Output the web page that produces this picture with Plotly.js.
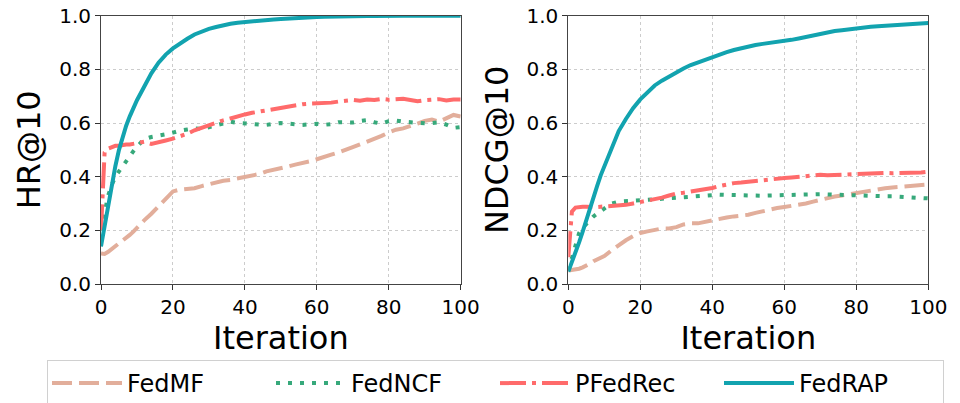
<!DOCTYPE html>
<html>
<head>
<meta charset="utf-8">
<script src="https://cdn.plot.ly/plotly-3.0.1.min.js"></script>
<style>html,body{margin:0;padding:0;background:#fff;}#chart{width:960px;height:403px;}</style>
</head>
<body>
<div id="chart"></div>
<script>
const iterations = [0,1,2,3,4,5,6,7,8,9,10,12,14,16,18,20,22,24,26,28,30,32,34,36,38,40,42,44,46,48,50,52,54,56,58,60,62,64,66,68,70,72,74,76,78,80,82,84,86,88,90,92,94,96,98,100];
const seriesNames = ["FedMF","FedNCF","PFedRec","FedRAP"];

// HR@10
const hrFedMF = [0.114,0.112,0.12,0.13,0.14,0.15,0.16,0.17,0.183,0.195,0.21,0.237,0.262,0.29,0.318,0.345,0.352,0.355,0.357,0.365,0.372,0.38,0.385,0.388,0.394,0.398,0.405,0.41,0.42,0.425,0.43,0.438,0.445,0.45,0.457,0.465,0.475,0.482,0.49,0.502,0.51,0.52,0.53,0.54,0.552,0.565,0.575,0.58,0.588,0.598,0.608,0.613,0.605,0.618,0.63,0.624];
const hrFedNCF = [0.20,0.27,0.33,0.37,0.40,0.42,0.44,0.46,0.478,0.495,0.512,0.54,0.548,0.552,0.558,0.564,0.572,0.576,0.58,0.578,0.585,0.59,0.597,0.605,0.60,0.598,0.594,0.593,0.593,0.597,0.60,0.598,0.596,0.593,0.595,0.597,0.593,0.596,0.603,0.604,0.602,0.608,0.611,0.603,0.597,0.607,0.609,0.605,0.603,0.60,0.599,0.60,0.603,0.594,0.582,0.585];
const hrPFedRec = [0.20,0.49,0.505,0.51,0.515,0.515,0.518,0.52,0.52,0.522,0.525,0.53,0.522,0.53,0.535,0.542,0.55,0.56,0.573,0.583,0.592,0.60,0.61,0.617,0.626,0.632,0.638,0.643,0.646,0.65,0.655,0.66,0.666,0.67,0.672,0.673,0.672,0.676,0.68,0.684,0.686,0.683,0.688,0.686,0.69,0.687,0.689,0.69,0.686,0.681,0.685,0.688,0.689,0.684,0.688,0.688];
const hrFedRAP = [0.14,0.22,0.30,0.37,0.44,0.50,0.55,0.59,0.625,0.66,0.685,0.735,0.785,0.825,0.855,0.878,0.898,0.914,0.93,0.942,0.951,0.958,0.965,0.97,0.974,0.977,0.979,0.982,0.984,0.986,0.988,0.99,0.991,0.993,0.994,0.995,0.996,0.997,0.997,0.998,0.998,0.999,0.999,0.999,1.0,1.0,1.0,1.0,1.0,1.0,1.0,1.0,1.0,1.0,1.0,1.0];

// NDCG@10
const ndcgFedMF = [0.05,0.052,0.054,0.057,0.062,0.068,0.076,0.085,0.092,0.098,0.104,0.125,0.145,0.163,0.178,0.19,0.196,0.203,0.207,0.207,0.212,0.222,0.226,0.226,0.232,0.238,0.242,0.248,0.252,0.255,0.258,0.265,0.272,0.278,0.283,0.287,0.291,0.296,0.30,0.307,0.314,0.32,0.326,0.33,0.335,0.339,0.343,0.348,0.352,0.357,0.36,0.362,0.364,0.366,0.368,0.371];
const ndcgFedNCF = [0.05,0.10,0.15,0.19,0.21,0.225,0.24,0.252,0.262,0.272,0.282,0.30,0.307,0.307,0.31,0.312,0.314,0.316,0.318,0.32,0.322,0.325,0.328,0.33,0.331,0.332,0.333,0.332,0.331,0.33,0.329,0.328,0.329,0.33,0.331,0.332,0.332,0.333,0.334,0.334,0.335,0.334,0.333,0.331,0.329,0.328,0.328,0.329,0.328,0.327,0.327,0.326,0.324,0.322,0.32,0.319];
const ndcgPFedRec = [0.10,0.27,0.285,0.288,0.288,0.288,0.287,0.286,0.287,0.288,0.289,0.29,0.29,0.295,0.30,0.305,0.31,0.316,0.322,0.33,0.337,0.34,0.344,0.348,0.353,0.358,0.365,0.372,0.376,0.378,0.381,0.383,0.386,0.392,0.395,0.395,0.397,0.399,0.402,0.405,0.407,0.405,0.406,0.408,0.41,0.412,0.412,0.414,0.413,0.414,0.413,0.413,0.414,0.413,0.416,0.419];
const ndcgFedRAP = [0.046,0.08,0.12,0.155,0.195,0.24,0.285,0.325,0.365,0.405,0.44,0.51,0.57,0.615,0.655,0.688,0.716,0.74,0.758,0.774,0.789,0.803,0.816,0.826,0.836,0.846,0.855,0.864,0.872,0.879,0.885,0.891,0.895,0.898,0.901,0.905,0.91,0.915,0.921,0.928,0.934,0.939,0.943,0.946,0.95,0.953,0.956,0.959,0.961,0.963,0.965,0.967,0.968,0.97,0.971,0.973];

const xTicks = [0,20,40,60,80,100];
const yTicks = [0,0.2,0.4,0.6,0.8,1.0];

const colors = ["#E2AE9B","#37A97B","#FF6B6B","#12A3AF"];
const dashes = ["20px,7px","4px,8px","26px,6px,4px,6px","solid"];
const FONT = "DejaVu Sans, Verdana, sans-serif";

const hrData = [hrFedMF, hrFedNCF, hrPFedRec, hrFedRAP];
const ndcgData = [ndcgFedMF, ndcgFedNCF, ndcgPFedRec, ndcgFedRAP];

const traces = [];
seriesNames.forEach((name, k) => {
  traces.push({x: iterations, y: hrData[k], type: "scatter", mode: "lines", name: name,
    xaxis: "x", yaxis: "y", legendgroup: name, showlegend: true,
    line: {color: colors[k], width: 4, dash: dashes[k]}});
});
seriesNames.forEach((name, k) => {
  traces.push({x: iterations, y: ndcgData[k], type: "scatter", mode: "lines", name: name,
    xaxis: "x2", yaxis: "y2", legendgroup: name, showlegend: false,
    line: {color: colors[k], width: 4, dash: dashes[k]}});
});

function xAxis(domain, anchor) {
  return {domain: domain, anchor: anchor, range: [0,100], tickvals: xTicks,
    ticks: "outside", ticklen: 5, tickcolor: "#333", showline: true, mirror: true,
    linecolor: "#444", linewidth: 1, showgrid: true, gridcolor: "#cccccc", griddash: "dot",
    gridwidth: 1, zeroline: false, tickfont: {family: FONT, size: 20, color: "#000"},
    title: {text: "Iteration", font: {family: FONT, size: 32, color: "#000"}, standoff: 2}};
}
function yAxis(domain, anchor, label) {
  return {domain: domain, anchor: anchor, range: [0,1], tickvals: yTicks, tickformat: ".1f",
    ticks: "outside", ticklen: 5, tickcolor: "#333", showline: true, mirror: true,
    linecolor: "#444", linewidth: 1, showgrid: true, gridcolor: "#cccccc", griddash: "dot",
    gridwidth: 1, zeroline: false, tickfont: {family: FONT, size: 20, color: "#000"},
    title: {text: label, font: {family: FONT, size: 32, color: "#000"}, standoff: 8}};
}

const yDom = [1 - 284/403, 1 - 15.7/403];
const layout = {
  width: 960, height: 403,
  margin: {l: 0, r: 0, t: 0, b: 0, autoexpand: false},
  paper_bgcolor: "#fff", plot_bgcolor: "#fff",
  font: {family: FONT, color: "#000"},
  xaxis: xAxis([101/960, 460.7/960], "y"),
  yaxis: yAxis(yDom, "x", "HR@10"),
  xaxis2: xAxis([568.3/960, 928.3/960], "y2"),
  yaxis2: yAxis(yDom, "x2", "NDCG@10"),
  showlegend: true,
  legend: {orientation: "h", x: 47/960, xanchor: "left", y: 1 - 360/403, yanchor: "top",
    bordercolor: "#d0d0d0", borderwidth: 1, bgcolor: "#fff",
    font: {family: FONT, size: 24, color: "#000"},
    entrywidth: 139, entrywidthmode: "pixels", itemwidth: 70, tracegroupgap: 0}
};

Plotly.newPlot("chart", traces, layout, {displayModeBar: false, staticPlot: true});
</script>
</body>
</html>
